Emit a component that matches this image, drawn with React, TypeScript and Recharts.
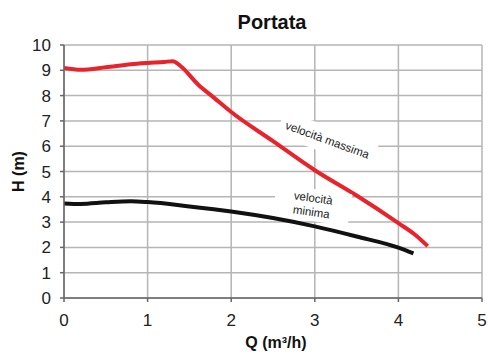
import React from 'react';
import {
  LineChart,
  Line,
  XAxis,
  YAxis,
  CartesianGrid,
  ReferenceDot,
} from 'recharts';

// Pump curve: portata Q (m3/h) vs prevalenza H (m)
const maxSpeed = [
  { q: 0, h: 9.09 },
  { q: 0.2, h: 9.02 },
  { q: 0.5, h: 9.12 },
  { q: 0.8, h: 9.24 },
  { q: 1.0, h: 9.29 },
  { q: 1.2, h: 9.33 },
  { q: 1.3, h: 9.36 },
  { q: 1.4, h: 9.15 },
  { q: 1.6, h: 8.45 },
  { q: 1.8, h: 7.9 },
  { q: 2.0, h: 7.35 },
  { q: 2.5, h: 6.2 },
  { q: 3.0, h: 5.05 },
  { q: 3.5, h: 4.05 },
  { q: 4.0, h: 2.96 },
  { q: 4.2, h: 2.5 },
  { q: 4.35, h: 2.05 },
];

const minSpeed = [
  { q: 0, h: 3.74 },
  { q: 0.2, h: 3.72 },
  { q: 0.5, h: 3.78 },
  { q: 0.8, h: 3.82 },
  { q: 1.0, h: 3.79 },
  { q: 1.5, h: 3.62 },
  { q: 2.0, h: 3.42 },
  { q: 2.5, h: 3.16 },
  { q: 3.0, h: 2.83 },
  { q: 3.5, h: 2.43 },
  { q: 4.0, h: 1.99 },
  { q: 4.18, h: 1.76 },
];

const xTicks = [0, 1, 2, 3, 4, 5];
const yTicks = [0, 1, 2, 3, 4, 5, 6, 7, 8, 9, 10];

const FONT = '"Liberation Sans", Arial, sans-serif';

function RotatedNote({ cx, cy, lines, angle, w, h }: any) {
  if (cx == null || cy == null) return null;
  return (
    <g transform={`translate(${cx},${cy}) rotate(${angle})`}>
      <rect x={-w / 2} y={-h / 2} width={w} height={h} fill="#fff" />
      <text textAnchor="middle" fontFamily={FONT} fontSize={11.5} fill="#222">
        {lines.map((t: string, i: number) => (
          <tspan key={i} x={0} y={(i - (lines.length - 1) / 2) * 14 + 4}>
            {t}
          </tspan>
        ))}
      </text>
    </g>
  );
}

// y-axis title, centred on the plot height
function YTitle({ viewBox }: any) {
  const cy = viewBox.y + viewBox.height / 2;
  return (
    <text
      transform={`translate(24,${cy}) rotate(-90)`}
      textAnchor="middle"
      fontFamily={FONT}
      fontWeight="bold"
      fontSize={16}
      fill="#111"
    >
      H (m)
    </text>
  );
}

export default function App() {
  return (
    <div style={{ position: 'absolute', left: 0, top: 0, width: 488, height: 354, background: '#fff' }}>
      <div
        style={{
          position: 'absolute',
          left: 0,
          width: 488,
          top: 11,
          textAlign: 'center',
          paddingLeft: 56,
          boxSizing: 'border-box',
          fontFamily: FONT,
          fontWeight: 'bold',
          fontSize: 20,
          color: '#111',
        }}
      >
        Portata
      </div>
      <LineChart width={488} height={354} margin={{ top: 45, right: 6, left: 0, bottom: 0 }}>
        <CartesianGrid stroke="#b5b5b5" strokeWidth={1.5} horizontalValues={yTicks} verticalValues={xTicks} />
        <XAxis
          type="number"
          dataKey="q"
          domain={[0, 5]}
          ticks={xTicks}
          allowDataOverflow
          stroke="#666"
          strokeWidth={1.5}
          tickSize={4}
          tick={{ fill: '#222', fontSize: 17, fontFamily: FONT }}
          tickMargin={12}
          height={56}
          label={{
            value: 'Q (m³/h)',
            position: 'insideBottom',
            offset: 6,
            dx: 3,
            fontFamily: FONT,
            fontWeight: 'bold',
            fontSize: 16,
            fill: '#111',
          }}
        />
        <YAxis
          type="number"
          dataKey="h"
          domain={[0, 10]}
          ticks={yTicks}
          interval={0}
          allowDataOverflow
          stroke="#666"
          strokeWidth={1.5}
          tickSize={4}
          tickMargin={9}
          width={64}
          tick={{ fill: '#222', fontSize: 17, fontFamily: FONT }}
          label={<YTitle />}
        />
        <ReferenceDot
          x={3.15}
          y={6.25}
          shape={(p: any) => (
            <RotatedNote cx={p.cx} cy={p.cy} angle={20} w={100} h={26} lines={['velocità massima']} />
          )}
        />
        <ReferenceDot
          x={2.97}
          y={3.68}
          shape={(p: any) => (
            <RotatedNote cx={p.cx} cy={p.cy} angle={8} w={76} h={32} lines={['velocità', 'minima']} />
          )}
        />
        <Line
          data={maxSpeed}
          dataKey="h"
          type="monotone"
          stroke="#e8232b"
          strokeWidth={4}
          dot={false}
          isAnimationActive={false}
        />
        <Line
          data={minSpeed}
          dataKey="h"
          type="monotone"
          stroke="#111"
          strokeWidth={4}
          dot={false}
          isAnimationActive={false}
        />
      </LineChart>
    </div>
  );
}
